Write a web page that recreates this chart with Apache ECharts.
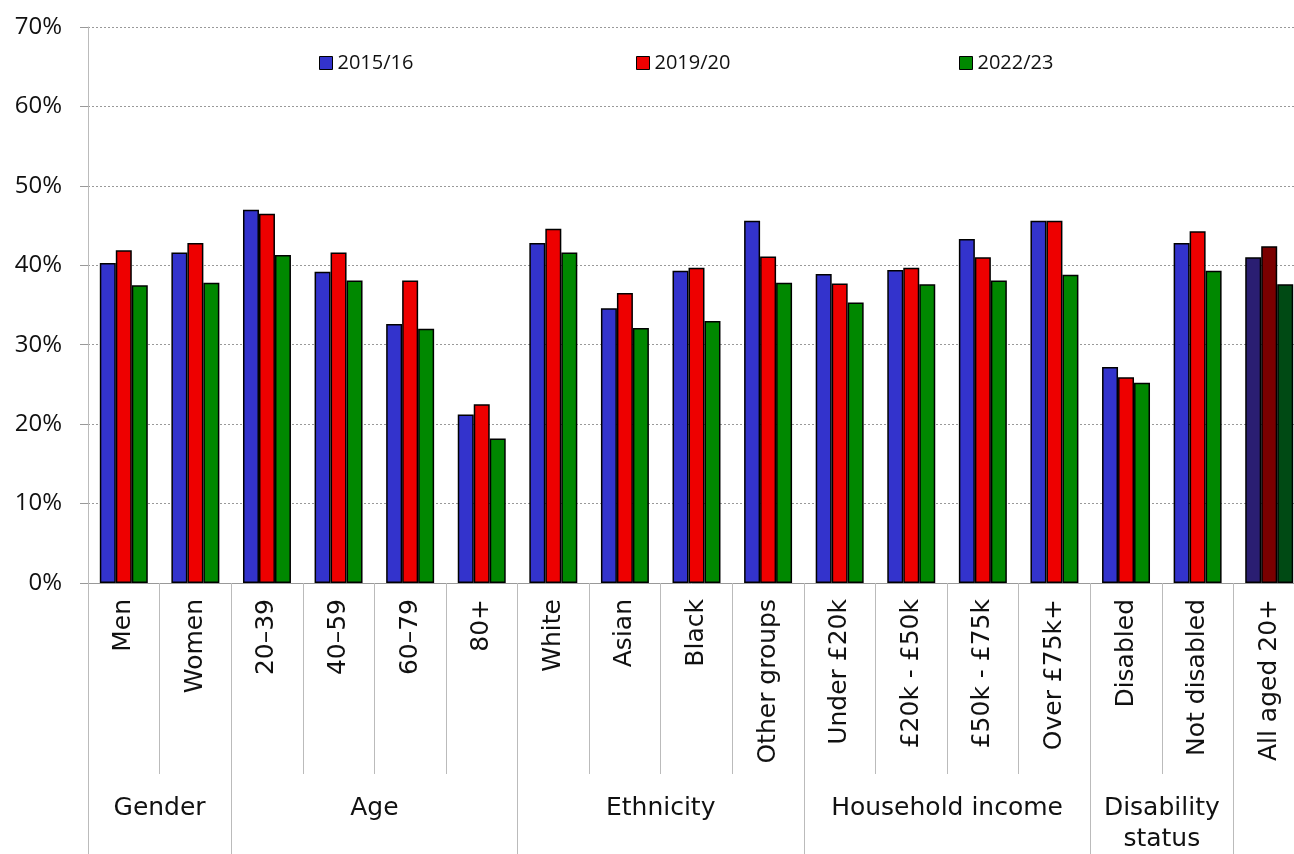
<!DOCTYPE html>
<html>
<head>
<meta charset="utf-8">
<script src="https://cdn.jsdelivr.net/npm/echarts@6/dist/echarts.min.js"></script>
<style>
  html, body { margin: 0; padding: 0; background: #fff; }
  #chart { width: 1294px; height: 854px; }
</style>
</head>
<body>
<div id="chart"></div>
<script>
// Category labels along the x axis
const categories = ['Men', 'Women', '20–39', '40–59', '60–79', '80+', 'White', 'Asian', 'Black',
  'Other groups', 'Under £20k', '£20k - £50k', '£50k - £75k', 'Over £75k+', 'Disabled',
  'Not disabled', 'All aged 20+'];

// Share of adults (%) in each survey year
const years = ['2015/16', '2019/20', '2022/23'];
const v2015 = [40.3, 41.6, 47.0, 39.2, 32.6, 21.2, 42.8, 34.6, 39.3, 45.6, 38.9, 39.4, 43.3, 45.6, 27.2, 42.8, 41.0];
const v2019 = [41.9, 42.8, 46.5, 41.6, 38.1, 22.5, 44.6, 36.5, 39.7, 41.1, 37.7, 39.7, 41.0, 45.6, 25.9, 44.3, 42.4];
const v2022 = [37.5, 37.8, 41.3, 38.1, 32.0, 18.2, 41.6, 32.1, 33.0, 37.8, 35.3, 37.6, 38.1, 38.8, 25.2, 39.3, 37.6];

// Grouping headings: [label, number of categories]
const groups = [['Gender', 2], ['Age', 4], ['Ethnicity', 4], ['Household income', 4], ['Disability\nstatus', 2], ['', 1]];

// Y axis ticks
const yTicks = [0, 10, 20, 30, 40, 50, 60, 70];

const colors = ['#3333cc', '#ee0000', '#008800'];
const totalColors = ['#2a1e72', '#7a0000', '#004a14'];
const FONT = '"Open Sans", "Noto Sans", sans-serif';
const XFONT = '"DejaVu Sans", "Open Sans", sans-serif';

// Half-category slots for the group axis (boundaryGap false: point k sits at k/2 categories)
const nHalf = categories.length * 2 + 1;
const groupLabels = new Array(nHalf).fill('');
const groupEdges = new Set([0]);
let pos = 0;
groups.forEach(([name, n]) => {
  groupLabels[pos * 2 + n] = name;
  pos += n;
  groupEdges.add(pos * 2);
});

function buildData(values, si) {
  return values.map((v, i) => i === values.length - 1
    ? { value: v, itemStyle: { color: totalColors[si] } }
    : v);
}

const seriesValues = [v2015, v2019, v2022];

const chart = echarts.init(document.getElementById('chart'), null, { renderer: 'canvas' });

const legendLeft = [319, 636, 959];

chart.setOption({
  animation: false,
  backgroundColor: '#ffffff',
  textStyle: { fontFamily: FONT },
  grid: { left: 88, top: 27, width: 1217, height: 556, containLabel: false, outerBoundsMode: 'none' },
  legend: years.map((y, i) => ({
    data: [y],
    left: legendLeft[i],
    top: 53,
    padding: 0,
    icon: 'rect',
    itemWidth: 13,
    itemHeight: 13,
    itemGap: 6,
    itemStyle: { borderColor: '#000', borderWidth: 1 },
    textStyle: { fontFamily: FONT, fontSize: 20, color: '#111' }
  })),
  xAxis: [
    {
      type: 'category',
      data: categories,
      axisLine: { show: true, lineStyle: { color: '#999', width: 1 } },
      axisTick: { show: true, interval: 0, length: 191, lineStyle: { color: '#bbb', width: 1 } },
      axisLabel: {
        interval: 0,
        rotate: 90,
        margin: 16,
        fontSize: 25,
        fontFamily: XFONT,
        color: '#111'
      }
    },
    {
      type: 'category',
      data: groupLabels,
      boundaryGap: false,
      position: 'bottom',
      axisLine: { show: false },
      axisTick: {
        show: true,
        interval: (i) => groupEdges.has(i),
        length: 271,
        lineStyle: { color: '#bbb', width: 1 }
      },
      axisLabel: {
        interval: 0,
        margin: 210,
        fontSize: 25,
        lineHeight: 31,
        fontFamily: XFONT,
        color: '#111',
        hideOverlap: false
      }
    }
  ],
  yAxis: {
    type: 'value',
    min: yTicks[0],
    max: yTicks[yTicks.length - 1],
    interval: 10,
    axisLine: { show: true, lineStyle: { color: '#bbb', width: 1 } },
    axisTick: { show: true, length: 8, lineStyle: { color: '#999' } },
    axisLabel: { formatter: '{value}%', fontSize: 24, margin: 26, color: '#111', fontFamily: FONT },
    splitLine: { show: true, lineStyle: { color: '#999', type: [2, 2], width: 1 } }
  },
  series: years.map((y, si) => ({
    name: y,
    type: 'bar',
    xAxisIndex: 0,
    data: buildData(seriesValues[si], si),
    barGap: '0%',
    barCategoryGap: '33%',
    itemStyle: { color: colors[si], borderColor: '#000', borderWidth: 1.5 }
  }))
});
</script>
</body>
</html>
